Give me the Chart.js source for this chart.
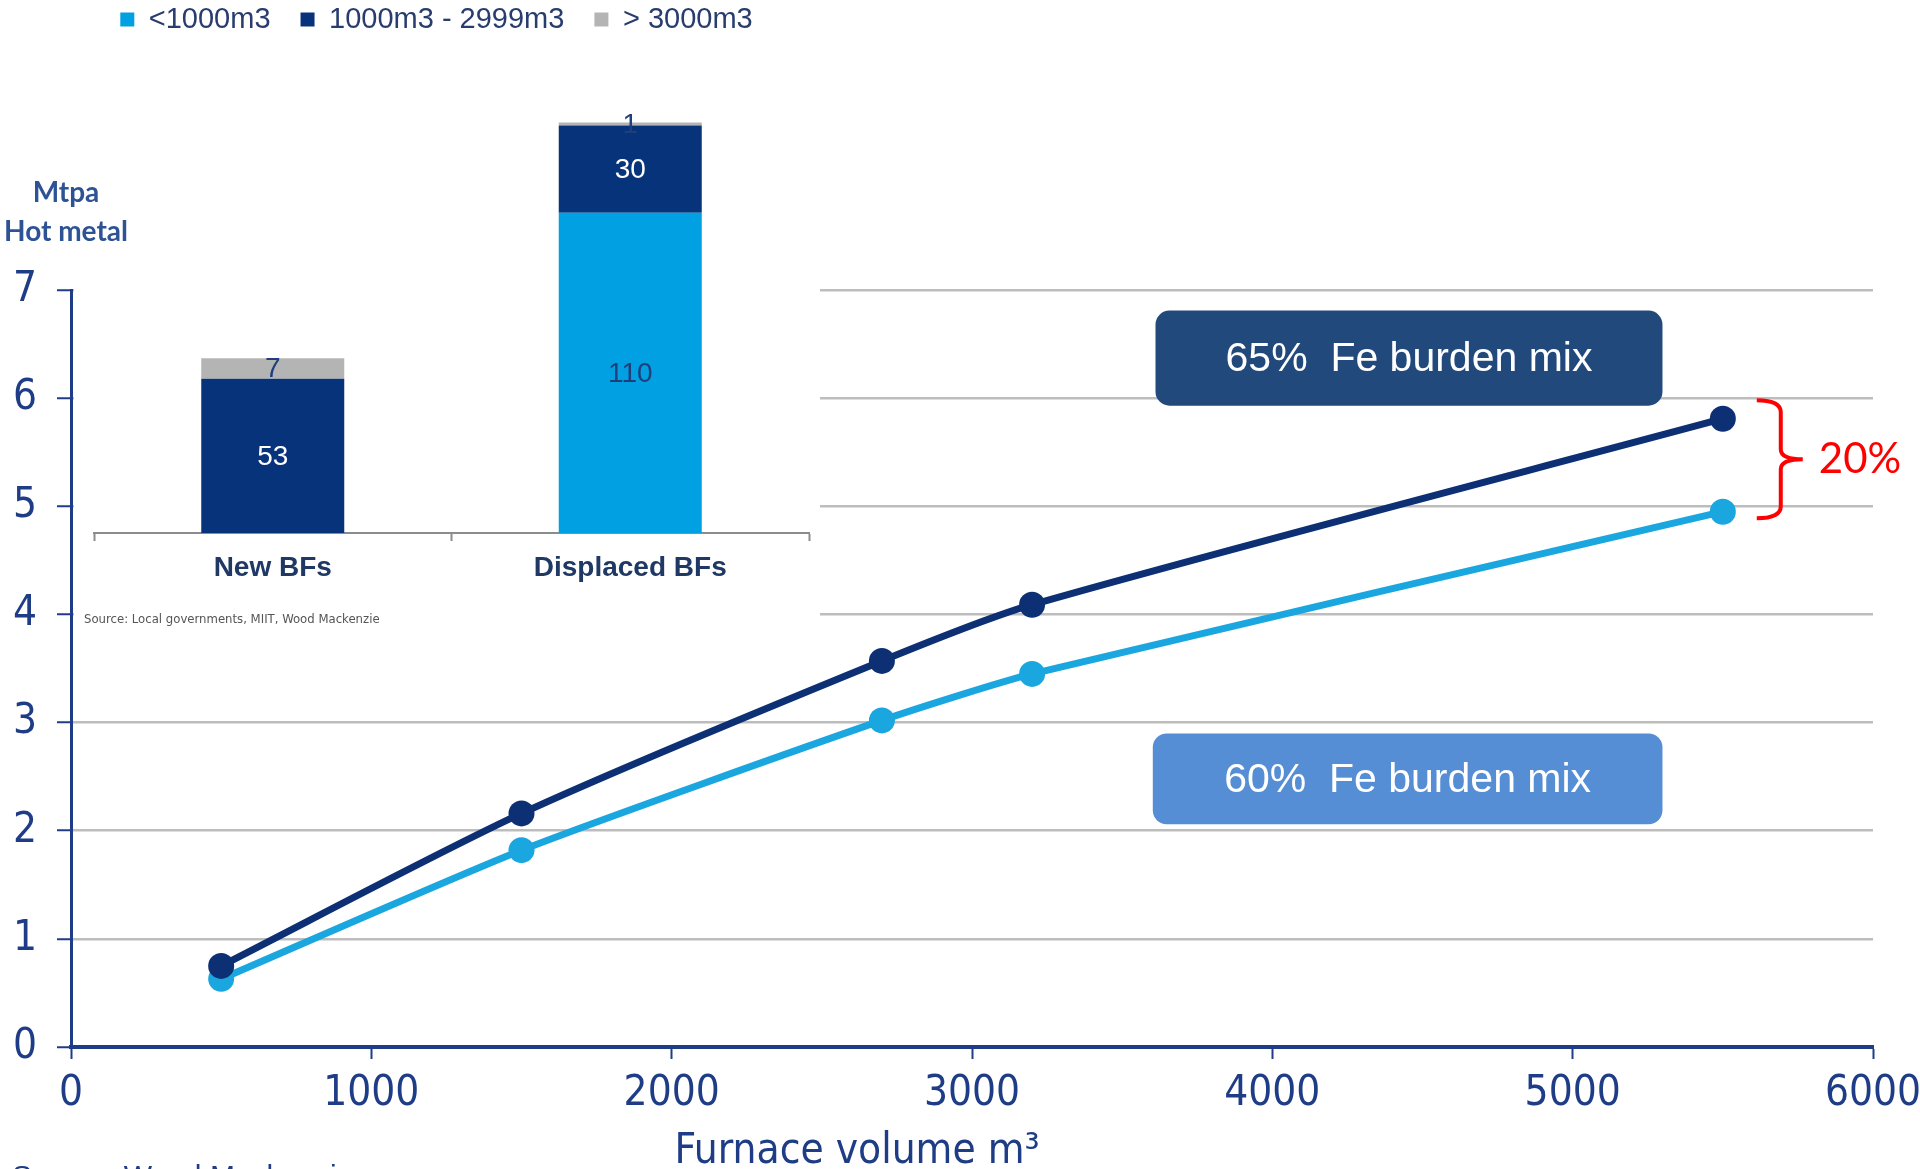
<!DOCTYPE html>
<html>
<head>
<meta charset="utf-8">
<script src="https://cdn.jsdelivr.net/npm/chart.js@4.4.1/dist/chart.umd.min.js"></script>
<style>
  html, body { margin: 0; padding: 0; background: #fff; }
  #wrap { position: relative; width: 1920px; height: 1169px; overflow: hidden; }
  #main { position: absolute; left: 0; top: 0; }
  #inset { position: absolute; left: 0; top: -25px; }
</style>
</head>
<body>
<div id="wrap">
  <canvas id="main" width="1920" height="1169"></canvas>
  <canvas id="inset" width="820" height="670"></canvas>
</div>
<script>
'use strict';

// Hot metal output (Mtpa) against furnace volume, two burden mixes
const VOLUME = [500, 1500, 2700, 3200, 5500];
const FE65 = [0.75, 2.16, 3.57, 4.09, 5.81];
const FE60 = [0.63, 1.82, 3.02, 3.45, 4.95];
const SERIES_NAMES = ['65%  Fe burden mix', '60%  Fe burden mix'];
const X_TICKS = [0, 1000, 2000, 3000, 4000, 5000, 6000];
const Y_TICKS = [0, 1, 2, 3, 4, 5, 6, 7];

// Inset: blast furnace capacity by furnace size class
const BF_GROUPS = ['New BFs', 'Displaced BFs'];
const SIZE_CLASSES = ['<1000m3', '1000m3 - 2999m3', '> 3000m3'];
const CAP_SMALL = [0, 110];
const CAP_MID = [53, 30];
const CAP_LARGE = [7, 1];

const NAVY = '#0d2f74';
const SKY = '#1aa6df';
const AXIS = '#1f3d86';
const GRID = '#bdbdbd';
const NARROW = '"Liberation Sans Narrow", "DejaVu Sans Condensed", "Liberation Sans", sans-serif';
const SANS = '"Liberation Sans", Arial, sans-serif';

/* ── main chart ───────────────────────────────────────────── */
const pts = ys => VOLUME.map((v, i) => ({ x: v, y: ys[i] }));

const mainDecor = {
  id: 'mainDecor',
  afterDatasetsDraw(chart) {
    const { ctx, scales: { x, y } } = chart;
    ctx.save();

    // series name boxes
    const boxes = [
      { x0: 3611, x1: 5299, y0: 5.93, y1: 6.81, fill: '#22497c', text: chart.data.datasets[0].label },
      { x0: 3602, x1: 5299, y0: 2.06, y1: 2.90, fill: '#558ed5', text: chart.data.datasets[1].label },
    ];
    boxes.forEach(b => {
      const l = x.getPixelForValue(b.x0), r = x.getPixelForValue(b.x1);
      const t = y.getPixelForValue(b.y1), bt = y.getPixelForValue(b.y0);
      ctx.fillStyle = b.fill;
      ctx.beginPath();
      ctx.roundRect(l, t, r - l, bt - t, 14);
      ctx.fill();
      ctx.fillStyle = '#fff';
      ctx.font = '41px ' + SANS;
      ctx.textAlign = 'center';
      ctx.textBaseline = 'middle';
      ctx.fillText(b.text, (l + r) / 2, (t + bt) / 2 + 2);
    });

    // brace between the two end points
    const bx = x.getPixelForValue(5613);
    const top = y.getPixelForValue(5.98), bot = y.getPixelForValue(4.89);
    const mid = (top + bot) / 2, vx = bx + 24;
    ctx.strokeStyle = '#ff0000';
    ctx.lineWidth = 4;
    ctx.beginPath();
    ctx.moveTo(bx, top);
    ctx.quadraticCurveTo(vx, top, vx, top + 12);
    ctx.lineTo(vx, mid - 10);
    ctx.quadraticCurveTo(vx, mid, vx + 22, mid);
    ctx.moveTo(vx + 22, mid);
    ctx.quadraticCurveTo(vx, mid, vx, mid + 10);
    ctx.lineTo(vx, bot - 12);
    ctx.quadraticCurveTo(vx, bot, bx, bot);
    ctx.stroke();
    ctx.fillStyle = '#ff0000';
    ctx.font = '42px Lato, sans-serif';
    ctx.textAlign = 'left';
    ctx.textBaseline = 'middle';
    ctx.fillText('20%', vx + 38, mid);

    // unit label
    ctx.fillStyle = '#2e5394';
    ctx.font = 'bold 28px Lato, sans-serif';
    ctx.textAlign = 'center';
    ctx.fillText('Mtpa', 66, 193);
    ctx.fillText('Hot metal', 66, 232);

    // x axis name, set left of the axis centre
    ctx.fillStyle = AXIS;
    ctx.font = '42px ' + NARROW;
    ctx.fillText('Furnace volume m³', 857, 1152);

    // source line at the foot
    ctx.font = '30px ' + SANS;
    ctx.textAlign = 'left';
    ctx.textBaseline = 'top';
    ctx.fillText('Source: Wood Mackenzie', 12, 1163);
    ctx.restore();
  },
};

new Chart(document.getElementById('main'), {
  type: 'line',
  data: {
    datasets: [
      { label: SERIES_NAMES[0], data: pts(FE65), borderColor: NAVY, backgroundColor: NAVY,
        borderWidth: 7, pointRadius: 13, pointBorderWidth: 0, tension: 0.25 },
      { label: SERIES_NAMES[1], data: pts(FE60), borderColor: SKY, backgroundColor: SKY,
        borderWidth: 7, pointRadius: 13, pointBorderWidth: 0, tension: 0.2 },
    ],
  },
  options: {
    responsive: false,
    animation: false,
    layout: { padding: { top: 290, right: 47, left: 0, bottom: 0 } },
    plugins: { legend: { display: false }, tooltip: { enabled: false } },
    scales: {
      x: {
        type: 'linear', min: 0, max: 6000,
        afterBuildTicks: s => { s.ticks = X_TICKS.map(v => ({ value: v })); },
        afterFit: s => { s.height = 122; s.paddingLeft = 0; s.paddingRight = 0; },
        ticks: { color: AXIS, padding: 10, maxRotation: 0, callback: v => String(v),
                 font: { family: NARROW, size: 42 } },
        grid: { drawOnChartArea: false, tickLength: 12, tickColor: AXIS, tickWidth: 2 },
        border: { color: AXIS, width: 4 },
      },
      y: {
        min: 0, max: 7,
        afterBuildTicks: s => { s.ticks = Y_TICKS.map(v => ({ value: v })); },
        afterFit: s => { s.width = 71; s.paddingTop = 0; s.paddingBottom = 0; },
        ticks: { color: AXIS, padding: 20, font: { family: NARROW, size: 42 } },
        grid: {
          color: c => (c.tick && c.tick.value === 0 ? 'rgba(0,0,0,0)' : GRID),
          lineWidth: 2.5, tickLength: 14, tickColor: AXIS, tickWidth: 2,
        },
        border: { color: AXIS, width: 3 },
      },
    },
  },
  plugins: [mainDecor],
});

/* ── inset bar chart ──────────────────────────────────────── */
const insetDecor = {
  id: 'insetDecor',
  beforeDraw(chart) {
    // white panel sits over the main chart's upper grid lines
    const { ctx, width, height } = chart;
    ctx.save();
    ctx.fillStyle = '#fff';
    ctx.fillRect(74, 295, width - 74, height - 295);
    ctx.restore();
  },
  afterDatasetsDraw(chart) {
    const { ctx } = chart;
    const textColors = ['#1f3f7a', '#ffffff', '#1f3f7a'];
    ctx.save();
    ctx.font = '28px ' + SANS;
    ctx.textAlign = 'center';
    ctx.textBaseline = 'middle';
    chart.data.datasets.forEach((ds, di) => {
      chart.getDatasetMeta(di).data.forEach((el, i) => {
        const v = ds.data[i];
        if (!v) return;
        ctx.fillStyle = textColors[di];
        ctx.fillText(String(v), el.x, (el.y + el.base) / 2 + 1);
      });
    });
    ctx.fillStyle = '#555';
    ctx.font = '13px ' + NARROW;
    ctx.textAlign = 'left';
    ctx.fillText('Source: Local governments, MIIT, Wood Mackenzie', 84, 645);
    ctx.restore();
  },
};

new Chart(document.getElementById('inset'), {
  type: 'bar',
  data: {
    labels: BF_GROUPS,
    datasets: [
      { label: SIZE_CLASSES[0], data: CAP_SMALL, backgroundColor: '#00a0e2' },
      { label: SIZE_CLASSES[1], data: CAP_MID, backgroundColor: '#07337a' },
      { label: SIZE_CLASSES[2], data: CAP_LARGE, backgroundColor: '#b4b4b4' },
    ],
  },
  options: {
    responsive: false,
    animation: false,
    categoryPercentage: 1,
    barPercentage: 0.4,
    layout: { padding: { top: 0, left: 64, right: 11, bottom: 0 } },
    plugins: {
      tooltip: { enabled: false },
      legend: {
        labels: {
          boxWidth: 14, boxHeight: 14, padding: 30, color: '#283d6e',
          font: { family: SANS, size: 29 },
        },
      },
    },
    scales: {
      x: {
        stacked: true,
        afterFit: s => { s.height = 112; },
        ticks: { color: '#1f3864', padding: 10, font: { family: SANS, size: 28, weight: 'bold' } },
        grid: { offset: true, drawOnChartArea: false, tickLength: 8, tickColor: '#8c8c8c', tickWidth: 2 },
        border: { color: '#8c8c8c', width: 2 },
      },
      y: {
        stacked: true, min: 0, max: 168,
        afterFit: s => { s.width = 30; },
        ticks: { display: false },
        grid: { display: false },
        border: { display: false },
      },
    },
  },
  plugins: [insetDecor],
});
</script>
</body>
</html>
